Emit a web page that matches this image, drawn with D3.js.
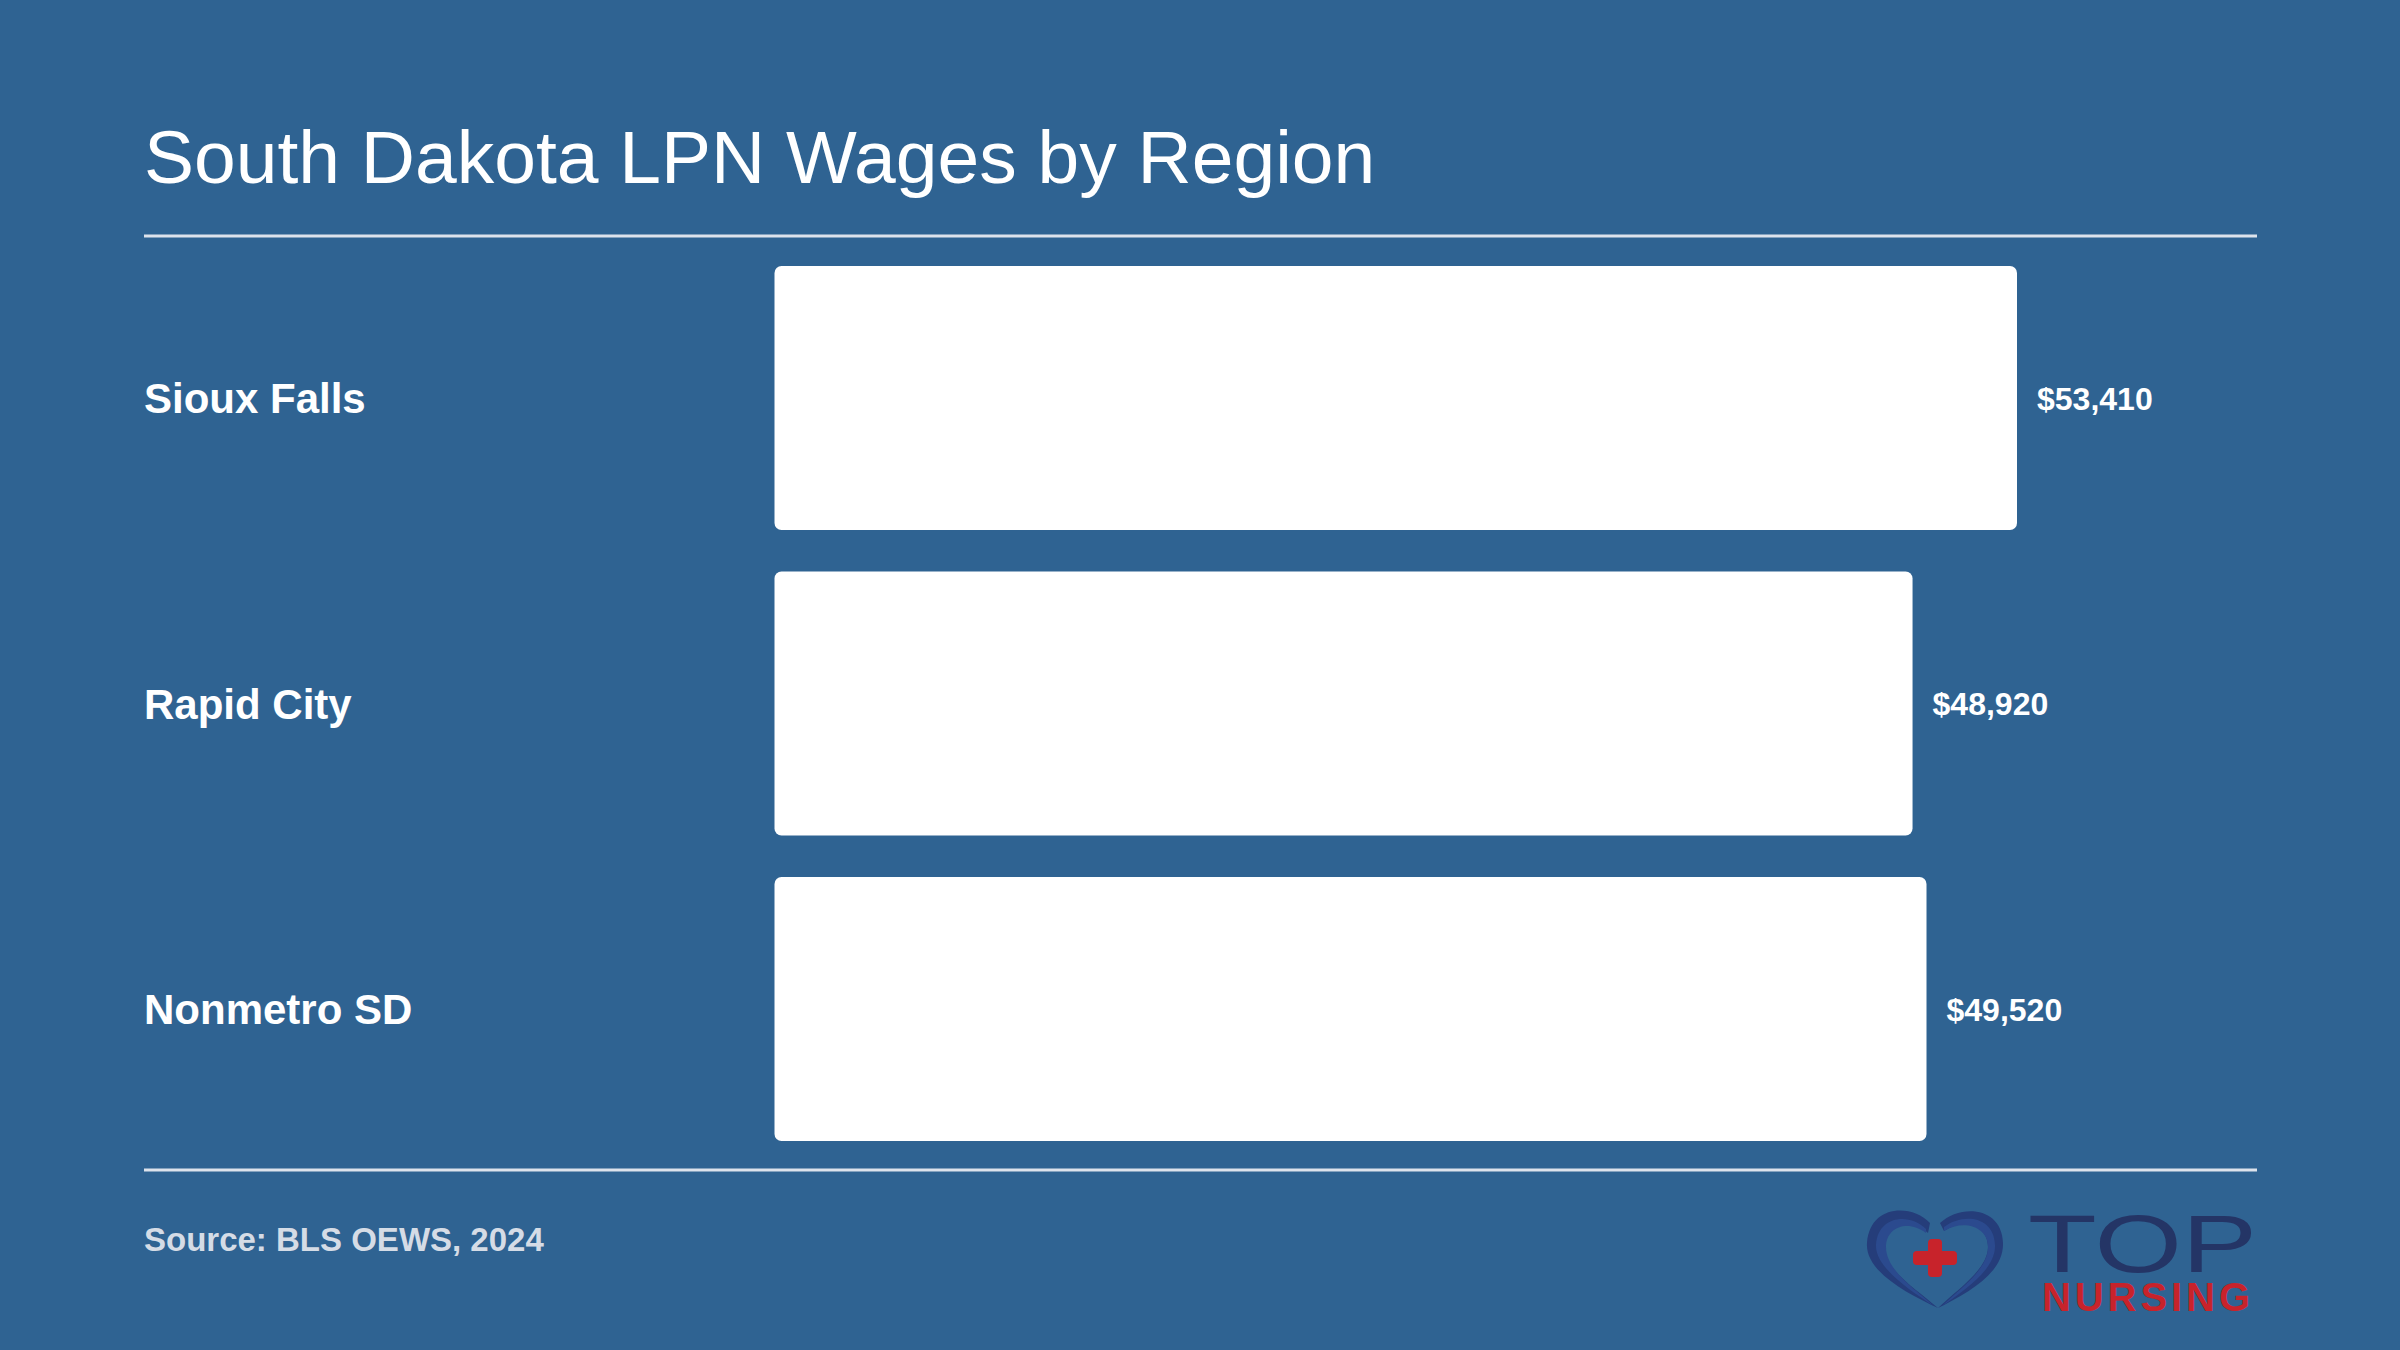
<!DOCTYPE html>
<html>
<head>
<meta charset="utf-8">
<script src="https://cdn.jsdelivr.net/npm/d3@7"></script>
<style>
html,body{margin:0;padding:0;background:#2f6392;}
svg{display:block;}
text{font-family:"Liberation Sans",Arial,Helvetica,sans-serif;}
</style>
</head>
<body>
<svg id="chart" width="2400" height="1350"></svg>
<script>
const categories = ["Sioux Falls", "Rapid City", "Nonmetro SD"];
const wages = [53410, 48920, 49520];
const titleText = "South Dakota LPN Wages by Region";
const sourceText = "Source: BLS OEWS, 2024";

const W = 2400, H = 1350;
const svg = d3.select("#chart");
svg.append("rect").attr("width", W).attr("height", H).attr("fill", "#2f6392");

// title
svg.append("text").attr("x", 144).attr("y", 183)
  .attr("fill", "#ffffff").attr("font-size", 75).text(titleText);

// rules
svg.append("line").attr("x1", 144).attr("x2", 2257).attr("y1", 236).attr("y2", 236)
  .attr("stroke", "#dde3ec").attr("stroke-width", 3);
svg.append("line").attr("x1", 144).attr("x2", 2257).attr("y1", 1170).attr("y2", 1170)
  .attr("stroke", "#dde3ec").attr("stroke-width", 3);

const data = categories.map((c, i) => ({cat: c, v: wages[i]}));

const y = d3.scaleBand().domain(categories).range([266, 1141]).paddingInner(0.136).paddingOuter(0);
const x = d3.scaleLinear().domain([0, d3.max(wages)]).range([774.5, 2017]);

const g = svg.append("g");
g.selectAll("rect.bar").data(data).join("rect").attr("class", "bar")
  .attr("x", x(0)).attr("y", d => y(d.cat))
  .attr("width", d => x(d.v) - x(0)).attr("height", y.bandwidth())
  .attr("rx", 7).attr("ry", 7).attr("fill", "#ffffff");

g.selectAll("text.cat").data(data).join("text").attr("class", "cat")
  .attr("x", 144).attr("y", d => y(d.cat) + y.bandwidth() / 2).attr("dy", "0.36em")
  .attr("fill", "#ffffff").attr("font-size", 42).attr("font-weight", "bold")
  .text(d => d.cat);

const fmt = d3.format("$,");
g.selectAll("text.val").data(data).join("text").attr("class", "val")
  .attr("x", d => x(d.v) + 20).attr("y", d => y(d.cat) + y.bandwidth() / 2).attr("dy", "0.36em")
  .attr("fill", "#ffffff").attr("font-size", 32).attr("font-weight", "bold")
  .text(d => fmt(d.v));

// source
svg.append("text").attr("x", 144).attr("y", 1251)
  .attr("fill", "#d5dce6").attr("font-size", 33).attr("font-weight", "bold").text(sourceText);

// logo
const logo = svg.append("g").attr("transform", "translate(1866,1207)");
logo.append("path").attr("fill", "#253d7a")
  .attr("d", "M64,16 C46,-3 4,-3 1,36 C-1,64 40,86 72,101 C50,82 18,62 18,40 C18,17 44,10 62,26 Z");
logo.append("path").attr("fill", "#2b4a8e")
  .attr("d", "M60,22 C44,6 12,8 10,38 C9,58 38,80 68,99 C46,80 20,62 20,40 C20,20 42,12 60,26 Z");
logo.append("path").attr("fill", "#253d7a")
  .attr("d", "M74,16 C94,-3 136,-1 137,36 C138,66 102,86 72,101 C92,82 122,62 122,40 C122,18 98,10 78,24 Z");
logo.append("path").attr("fill", "#2b4a8e")
  .attr("d", "M78,20 C96,6 128,8 129,38 C130,60 104,80 76,99 C96,80 122,62 122,40 C122,20 98,12 78,24 Z");
logo.append("rect").attr("x", 47).attr("y", 44).attr("width", 44).attr("height", 14).attr("rx", 4).attr("fill", "#c8232b");
logo.append("rect").attr("x", 62).attr("y", 32).attr("width", 14).attr("height", 38).attr("rx", 4).attr("fill", "#c8232b");

svg.append("text").attr("x", 2028).attr("y", 1272)
  .attr("fill", "#243566").attr("font-size", 81)
  .attr("textLength", 229).attr("lengthAdjust", "spacingAndGlyphs").text("TOP");
svg.append("text").attr("x", 2042).attr("y", 1311)
  .attr("fill", "#c8232b").attr("font-size", 40).attr("font-weight", "bold")
  .attr("textLength", 208).attr("lengthAdjust", "spacing").text("NURSING");
</script>
</body>
</html>
